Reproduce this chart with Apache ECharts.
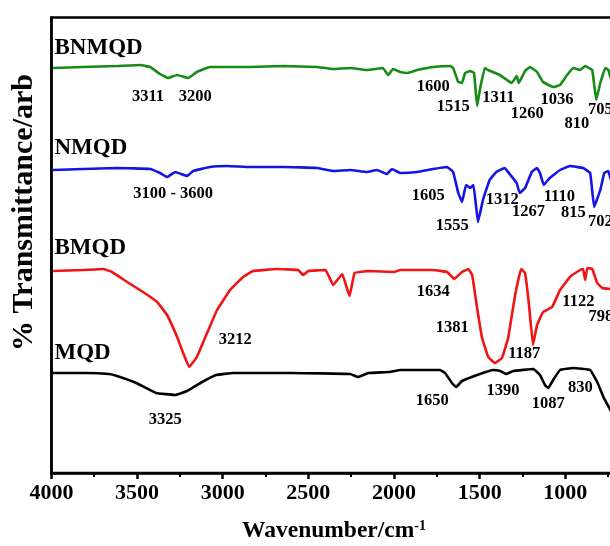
<!DOCTYPE html>
<html>
<head>
<meta charset="utf-8">
<script src="https://cdn.jsdelivr.net/npm/echarts@6/dist/echarts.min.js"></script>
<style>html,body{margin:0;padding:0;background:#fff;overflow:hidden}#c{width:651px;height:546px}</style>
</head>
<body>
<div id="c"></div>
<script>
// Wavenumber ticks (cm-1), x axis reversed; the figure is cropped at the right edge (~740 cm-1)
const xTicks = [4000, 3500, 3000, 2500, 2000, 1500, 1000, 500];

// Spectra: [wavenumber, transmittance (arb, stacked offset)]
const bnmqd = [[3990,405],[3815,406],[3617,407],[3483,408],[3424,406],[3366,399],[3319,395],[3267,398],[3202,395],[3151,401],[3074,406],[2840,406],[2647,407],[2450,406],[2356,404],[2256,405],[2159,403],[2065,405],[2034,398],[2006,404],[1977,402],[1964,401],[1923,400],[1865,403],[1771,406],[1672,407],[1655,405],[1625,391],[1603,390],[1585,400],[1556,402],[1533,400],[1515,367],[1496,386],[1470,405],[1452,403],[1383,398],[1313,390],[1284,397],[1272,390],[1235,402],[1206,406],[1165,401],[1130,391],[1071,386],[1031,388],[990,398],[953,405],[914,403],[884,407],[843,403],[820,373],[796,390],[767,405],[749,403],[737,396],[705,380]];
const nmqd = [[3990,303],[3815,304],[3617,305],[3424,304],[3366,300],[3325,296],[3278,301],[3208,297],[3173,302],[3074,306],[2975,307],[2840,306],[2647,306],[2450,305],[2356,302],[2256,303],[2159,301],[2100,303],[2041,299],[2012,304],[1977,301],[1964,300],[1865,301],[1771,304],[1690,306],[1655,301],[1625,280],[1603,271],[1580,288],[1556,285],[1536,288],[1510,251],[1481,273],[1442,293],[1403,301],[1354,305],[1325,299],[1284,290],[1267,280],[1235,285],[1196,301],[1165,305],[1148,300],[1126,288],[1091,295],[1031,303],[973,307],[896,305],[855,300],[832,266],[796,283],[773,300],[749,302],[737,295],[705,280]];
const bmqd = [[3990,202],[3815,203],[3698,204],[3646,201],[3558,191],[3465,181],[3383,171],[3325,158],[3266,136],[3231,120],[3196,106],[3151,116],[3091,140],[3033,163],[2957,183],[2881,196],[2823,202],[2683,204],[2560,203],[2530,198],[2500,202],[2400,203],[2355,188],[2302,199],[2260,177],[2230,200],[2150,202],[2000,201],[1964,203],[1771,203],[1690,201],[1649,194],[1603,201],[1567,204],[1544,198],[1515,165],[1486,135],[1450,116],[1411,110],[1370,115],[1334,135],[1293,178],[1258,204],[1235,200],[1212,168],[1189,128],[1165,148],[1130,161],[1077,166],[1031,183],[973,196],[914,203],[896,204],[884,193],[872,205],[843,204],[814,190],[784,185],[737,184],[705,183]];
const mqd = [[3994,100],[3800,100],[3664,99],[3617,97],[3505,90],[3389,80],[3278,78],[3208,82],[3120,91],[3039,98],[2939,100],[2600,100],[2256,99],[2210,96],[2150,100],[2028,101],[1964,103],[1848,103],[1731,103],[1702,100],[1662,90],[1638,86],[1603,92],[1515,98],[1421,103],[1380,102],[1345,99],[1304,102],[1187,104],[1148,98],[1119,88],[1100,85],[1071,93],[1031,103],[953,105],[855,103],[814,91],[778,76],[737,63],[705,50]];

// Sample names: [text, wavenumber, value]
const sampleNames = [["BNMQD",3982,425],["NMQD",3982,325],["BMQD",3982,225],["MQD",3982,120]];

// Peak annotations: [text, wavenumber, value]
const peakLabels = [
  ["3311",3436,376],["3200",3161,376],["1600",1771,386],["1515",1655,366],["1311",1391,375],["1260",1222,359],["1036",1048,373],["810",932,349],["705",795,363],
  ["3100 - 3600",3289,279],["1605",1800,277],["1555",1660,247],["1312",1368,273],["1267",1215,261],["1110",1035,276],["815",953,260],["702",795,251],
  ["3212",2927,133],["1634",1771,181],["1381",1660,145],["1187",1240,119],["1122",924,171],["798",792,156],
  ["3325",3336,53],["1650",1777,72],["1390",1364,82],["1087",1100,69],["830",912,85]
];

const FONT = "Liberation Serif";
const chart = echarts.init(document.getElementById('c'), null, {renderer:'canvas'});

function spec(name, data, color){
  return {name, type:'line', data, showSymbol:false, smooth:0.08, silent:true,
    lineStyle:{color, width:2.6}, itemStyle:{color}, z:3};
}
function textSeries(items, align, size){
  return {type:'scatter', silent:true, symbolSize:1, itemStyle:{color:'transparent', opacity:1}, z:5,
    data: items.map(d=>({name:d[0], value:[d[1], d[2]]})),
    label:{show:true, position:'inside', formatter:p=>p.name, color:'#000', opacity:1,
      textBorderWidth:0, fontFamily:FONT, fontWeight:'bold', fontSize:size, align}};
}

chart.setOption({
  animation:false,
  backgroundColor:'#fff',
  grid:{left:51.4, top:17.5, bottom:73, right:0, outerBoundsMode:'none', containLabel:false,
    show:true, borderColor:'#000', borderWidth:2.5},
  xAxis:{type:'value', inverse:true, min:500, max:4000, interval:500,
    axisLine:{show:true, onZero:false, lineStyle:{color:'#000', width:2.5}},
    axisTick:{show:true, inside:false, length:6, lineStyle:{color:'#000', width:2.5}},
    minorTick:{show:true, splitNumber:2, length:4, lineStyle:{color:'#000', width:2}},
    splitLine:{show:false},
    axisLabel:{color:'#000', fontFamily:FONT, fontWeight:'bold', fontSize:22, margin:9,
      formatter:v=>String(v)}
  },
  yAxis:{type:'value', min:0, max:455.5,
    axisLine:{show:true, lineStyle:{color:'#000', width:2.5}},
    axisTick:{show:false}, axisLabel:{show:false}, splitLine:{show:false}
  },
  graphic:[
    {type:'text', left:9, top:74, rotation:Math.PI/2, silent:true,
      style:{text:'% Transmittance/arb', fill:'#000', font:'bold 30px "Liberation Serif"'}},
    {type:'text', x:334, y:531, silent:true,
      style:{text:'Wavenumber/cm{sup|-1}', fill:'#000', align:'center', verticalAlign:'middle',
        fontFamily:FONT, fontWeight:'bold', fontSize:23.5,
        rich:{sup:{fontFamily:FONT, fontWeight:'bold', fontSize:14, verticalAlign:'top', padding:[0,0,10,0], fill:'#000'}}}}
  ],
  series:[
    spec('BNMQD', bnmqd, '#168c16'),
    spec('NMQD', nmqd, '#1414e6'),
    spec('BMQD', bmqd, '#f01414'),
    spec('MQD', mqd, '#000000'),
    textSeries(sampleNames, 'left', 23),
    textSeries(peakLabels, 'center', 16.5)
  ]
});
</script>
</body>
</html>
